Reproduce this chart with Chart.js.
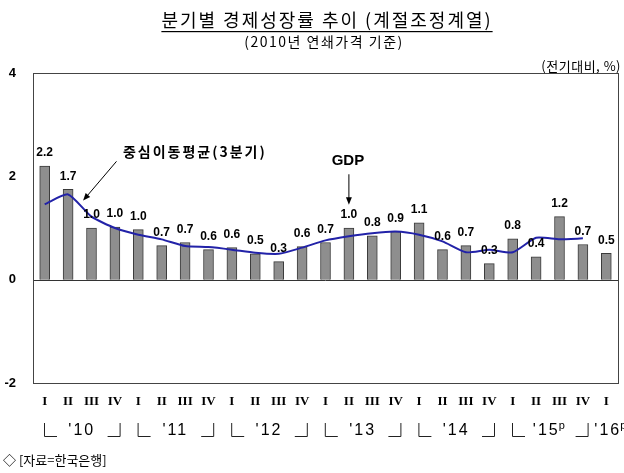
<!DOCTYPE html>
<html>
<head>
<meta charset="utf-8">
<script src="https://cdn.jsdelivr.net/npm/chart.js@4.4.1/dist/chart.umd.min.js"></script>
<style>
  html, body { margin: 0; padding: 0; background: #fff; }
  canvas { display: block; }
</style>
</head>
<body>
<canvas id="gdpChart" width="624" height="473"></canvas>
<script>
// quarter labels, 2010 I ~ 2016 I
const quarters = ['I', 'II', 'III', 'IV', 'I', 'II', 'III', 'IV', 'I', 'II', 'III', 'IV',
    'I', 'II', 'III', 'IV', 'I', 'II', 'III', 'IV', 'I', 'II', 'III', 'IV', 'I'];

// year groups: label, first quarter index, number of quarters, preliminary flag
const yearLabels = ["'10", "'11", "'12", "'13", "'14", "'15", "'16"];
const yearStart = [0, 4, 8, 12, 16, 20, 24];
const yearLength = [4, 4, 4, 4, 4, 4, 1];
const yearPrelim = [false, false, false, false, false, true, true];

// GDP growth q/q (%) and printed labels
const gdpValues = [2.2, 1.75, 1.0, 1.02, 0.97, 0.66, 0.72, 0.58, 0.62, 0.5, 0.35, 0.64,
    0.72, 1.0, 0.85, 0.93, 1.1, 0.58, 0.66, 0.31, 0.79, 0.44, 1.22, 0.68, 0.51];
const gdpLabels = ['2.2', '1.7', '1.0', '1.0', '1.0', '0.7', '0.7', '0.6', '0.6', '0.5', '0.3', '0.6',
    '0.7', '1.0', '0.8', '0.9', '1.1', '0.6', '0.7', '0.3', '0.8', '0.4', '1.2', '0.7', '0.5'];

// centered 3-quarter moving average
const movingAvg = [1.46, 1.65, 1.22, 1.0, 0.87, 0.78, 0.65, 0.63, 0.58, 0.52, 0.5, 0.62,
    0.76, 0.84, 0.9, 0.93, 0.87, 0.74, 0.53, 0.58, 0.53, 0.81, 0.78, 0.8, null];

const yTicks = [4, 2, 0, -2];

const SANS = '"Liberation Sans", Arial, sans-serif';
const KR = '"Noto Sans CJK KR", sans-serif';
const SERIF = '"Liberation Serif", "Times New Roman", serif';

/**
 * Draw an arrow with a filled head at (x2, y2)
 */
function drawArrow(ctx, x1, y1, x2, y2) {
    const ang = Math.atan2(y2 - y1, x2 - x1);
    const len = 8;
    ctx.save();
    ctx.strokeStyle = '#000';
    ctx.fillStyle = '#000';
    ctx.lineWidth = 1;
    ctx.beginPath();
    ctx.moveTo(x1, y1);
    ctx.lineTo(x2 - Math.cos(ang) * len * 0.8, y2 - Math.sin(ang) * len * 0.8);
    ctx.stroke();
    ctx.beginPath();
    ctx.moveTo(x2, y2);
    ctx.lineTo(x2 - len * Math.cos(ang - 0.38), y2 - len * Math.sin(ang - 0.38));
    ctx.lineTo(x2 - len * Math.cos(ang + 0.38), y2 - len * Math.sin(ang + 0.38));
    ctx.closePath();
    ctx.fill();
    ctx.restore();
}

// frame, zero line, labels, titles, annotations
const decorPlugin = {
    id: 'decor',
    beforeDatasetsDraw(chart) {
        const { ctx, chartArea: a, scales: { y } } = chart;
        ctx.save();
        ctx.strokeStyle = '#333';
        ctx.lineWidth = 1;
        const y0 = Math.round(y.getPixelForValue(0)) + 0.5;
        ctx.beginPath();
        ctx.moveTo(a.left, y0);
        ctx.lineTo(a.right, y0);
        ctx.stroke();
        ctx.restore();
    },
    afterDatasetsDraw(chart) {
        const { ctx } = chart;
        const barMeta = chart.getDatasetMeta(1);
        ctx.save();
        ctx.fillStyle = '#000';
        ctx.font = 'bold 12px ' + SANS;
        ctx.textAlign = 'center';
        ctx.textBaseline = 'bottom';
        barMeta.data.forEach((bar, i) => {
            ctx.fillText(gdpLabels[i], bar.x, bar.y - 7);
        });
        ctx.restore();
    },
    afterDraw(chart) {
        const { ctx, chartArea: a, scales: { x, y } } = chart;
        ctx.save();

        // plot frame
        ctx.strokeStyle = '#444';
        ctx.lineWidth = 1;
        ctx.strokeRect(Math.round(a.left) + 0.5, Math.round(a.top) + 0.5,
            Math.round(a.right - a.left), Math.round(a.bottom - a.top));

        // title
        ctx.fillStyle = '#000';
        ctx.textAlign = 'center';
        ctx.textBaseline = 'middle';
        ctx.letterSpacing = '2px';
        ctx.font = '18px ' + KR;
        const title = '분기별 경제성장률 추이 (계절조정계열)';
        ctx.fillText(title, 327, 20);
        const tw = ctx.measureText(title).width;
        ctx.fillRect(327 - tw / 2, 31, tw, 1.2);

        ctx.letterSpacing = '1.5px';
        ctx.font = '14px ' + KR;
        ctx.fillText('(2010년 연쇄가격 기준)', 324, 42);

        ctx.letterSpacing = '0.5px';
        ctx.textAlign = 'right';
        ctx.font = '13px ' + KR;
        ctx.fillText('(전기대비, %)', 621, 66);
        ctx.letterSpacing = '0px';

        // quarter labels
        ctx.textAlign = 'center';
        ctx.font = 'bold 13px ' + SERIF;
        quarters.forEach((q, i) => {
            ctx.fillText(q, x.getPixelForValue(i), 402);
        });

        // year labels with brackets
        const half = (x.getPixelForValue(1) - x.getPixelForValue(0)) / 2;
        yearLabels.forEach((label, k) => {
            const left = x.getPixelForValue(yearStart[k]) - half;
            const right = x.getPixelForValue(yearStart[k] + yearLength[k] - 1) + half;
            const cx = (left + right) / 2 + (yearLength[k] === 1 ? 5 : 2);
            ctx.letterSpacing = '2px';
            ctx.font = '16px ' + SANS;
            ctx.textAlign = 'center';
            const w = ctx.measureText(label).width;
            const pw = yearPrelim[k] ? 7 : 0;
            ctx.fillText(label, cx - pw / 2, 431);
            ctx.letterSpacing = '0px';
            if (yearPrelim[k]) {
                ctx.font = '11px ' + SANS;
                ctx.textAlign = 'left';
                ctx.fillText('p', cx - pw / 2 + w / 2 - 1, 426);
            }
            if (yearLength[k] > 1) {
                ctx.strokeStyle = '#222';
                ctx.lineWidth = 1;
                ctx.beginPath();
                ctx.moveTo(left + 11.5, 423);
                ctx.lineTo(left + 11.5, 436.5);
                ctx.lineTo(left + 24, 436.5);
                ctx.moveTo(right - 19, 436.5);
                ctx.lineTo(right - 6.5, 436.5);
                ctx.lineTo(right - 6.5, 423);
                ctx.stroke();
            }
        });

        // source
        ctx.textAlign = 'left';
        ctx.font = '13px ' + KR;
        ctx.fillStyle = '#000';
        ctx.fillText('◇ [자료=한국은행]', 3, 460);

        // annotations
        ctx.textAlign = 'left';
        ctx.letterSpacing = '2px';
        ctx.font = 'bold 14px ' + KR;
        ctx.fillText('중심이동평균(3분기)', x.getPixelForValue(3) + 8, y.getPixelForValue(2.48));
        ctx.letterSpacing = '0px';
        drawArrow(ctx, x.getPixelForValue(2) + 25, y.getPixelForValue(2.29),
            x.getPixelForValue(1) + 15, y.getPixelForValue(1.53));

        ctx.textAlign = 'center';
        ctx.font = 'bold 15px ' + SANS;
        const gx = x.getPixelForValue(13);
        ctx.fillText('GDP', gx - 1, y.getPixelForValue(2.3));
        drawArrow(ctx, gx, y.getPixelForValue(2.04), gx, y.getPixelForValue(1.45));

        ctx.restore();
    }
};

/**
 * Build chart
 */
function init() {
    const canvas = document.getElementById('gdpChart');
    new Chart(canvas, {
        type: 'bar',
        data: {
            labels: quarters,
            datasets: [
                {
                    type: 'line',
                    label: '중심이동평균(3분기)',
                    data: movingAvg,
                    borderColor: '#2222a8',
                    borderWidth: 2,
                    pointRadius: 0,
                    tension: 0.2,
                    fill: false,
                    order: 0
                },
                {
                    type: 'bar',
                    label: 'GDP',
                    data: gdpValues,
                    backgroundColor: '#8e8e8e',
                    borderColor: '#3a3a3a',
                    borderWidth: 1,
                    barThickness: 10,
                    order: 1
                }
            ]
        },
        options: {
            responsive: false,
            animation: false,
            layout: {
                padding: { left: 0, top: 73, right: 6, bottom: 90 }
            },
            plugins: {
                legend: { display: false },
                tooltip: { enabled: false },
                title: { display: false }
            },
            scales: {
                x: {
                    display: false,
                    offset: true
                },
                y: {
                    min: -2,
                    max: 4,
                    afterFit: (scale) => { scale.width = 33; },
                    afterBuildTicks: (scale) => {
                        scale.ticks = yTicks.map(v => ({ value: v }));
                    },
                    grid: { display: false, drawTicks: false },
                    border: { display: false },
                    ticks: {
                        padding: 17,
                        color: '#000',
                        font: { family: SANS, size: 13, weight: 'bold' }
                    }
                }
            }
        },
        plugins: [decorPlugin]
    });
}

document.addEventListener('DOMContentLoaded', init);
</script>
</body>
</html>
